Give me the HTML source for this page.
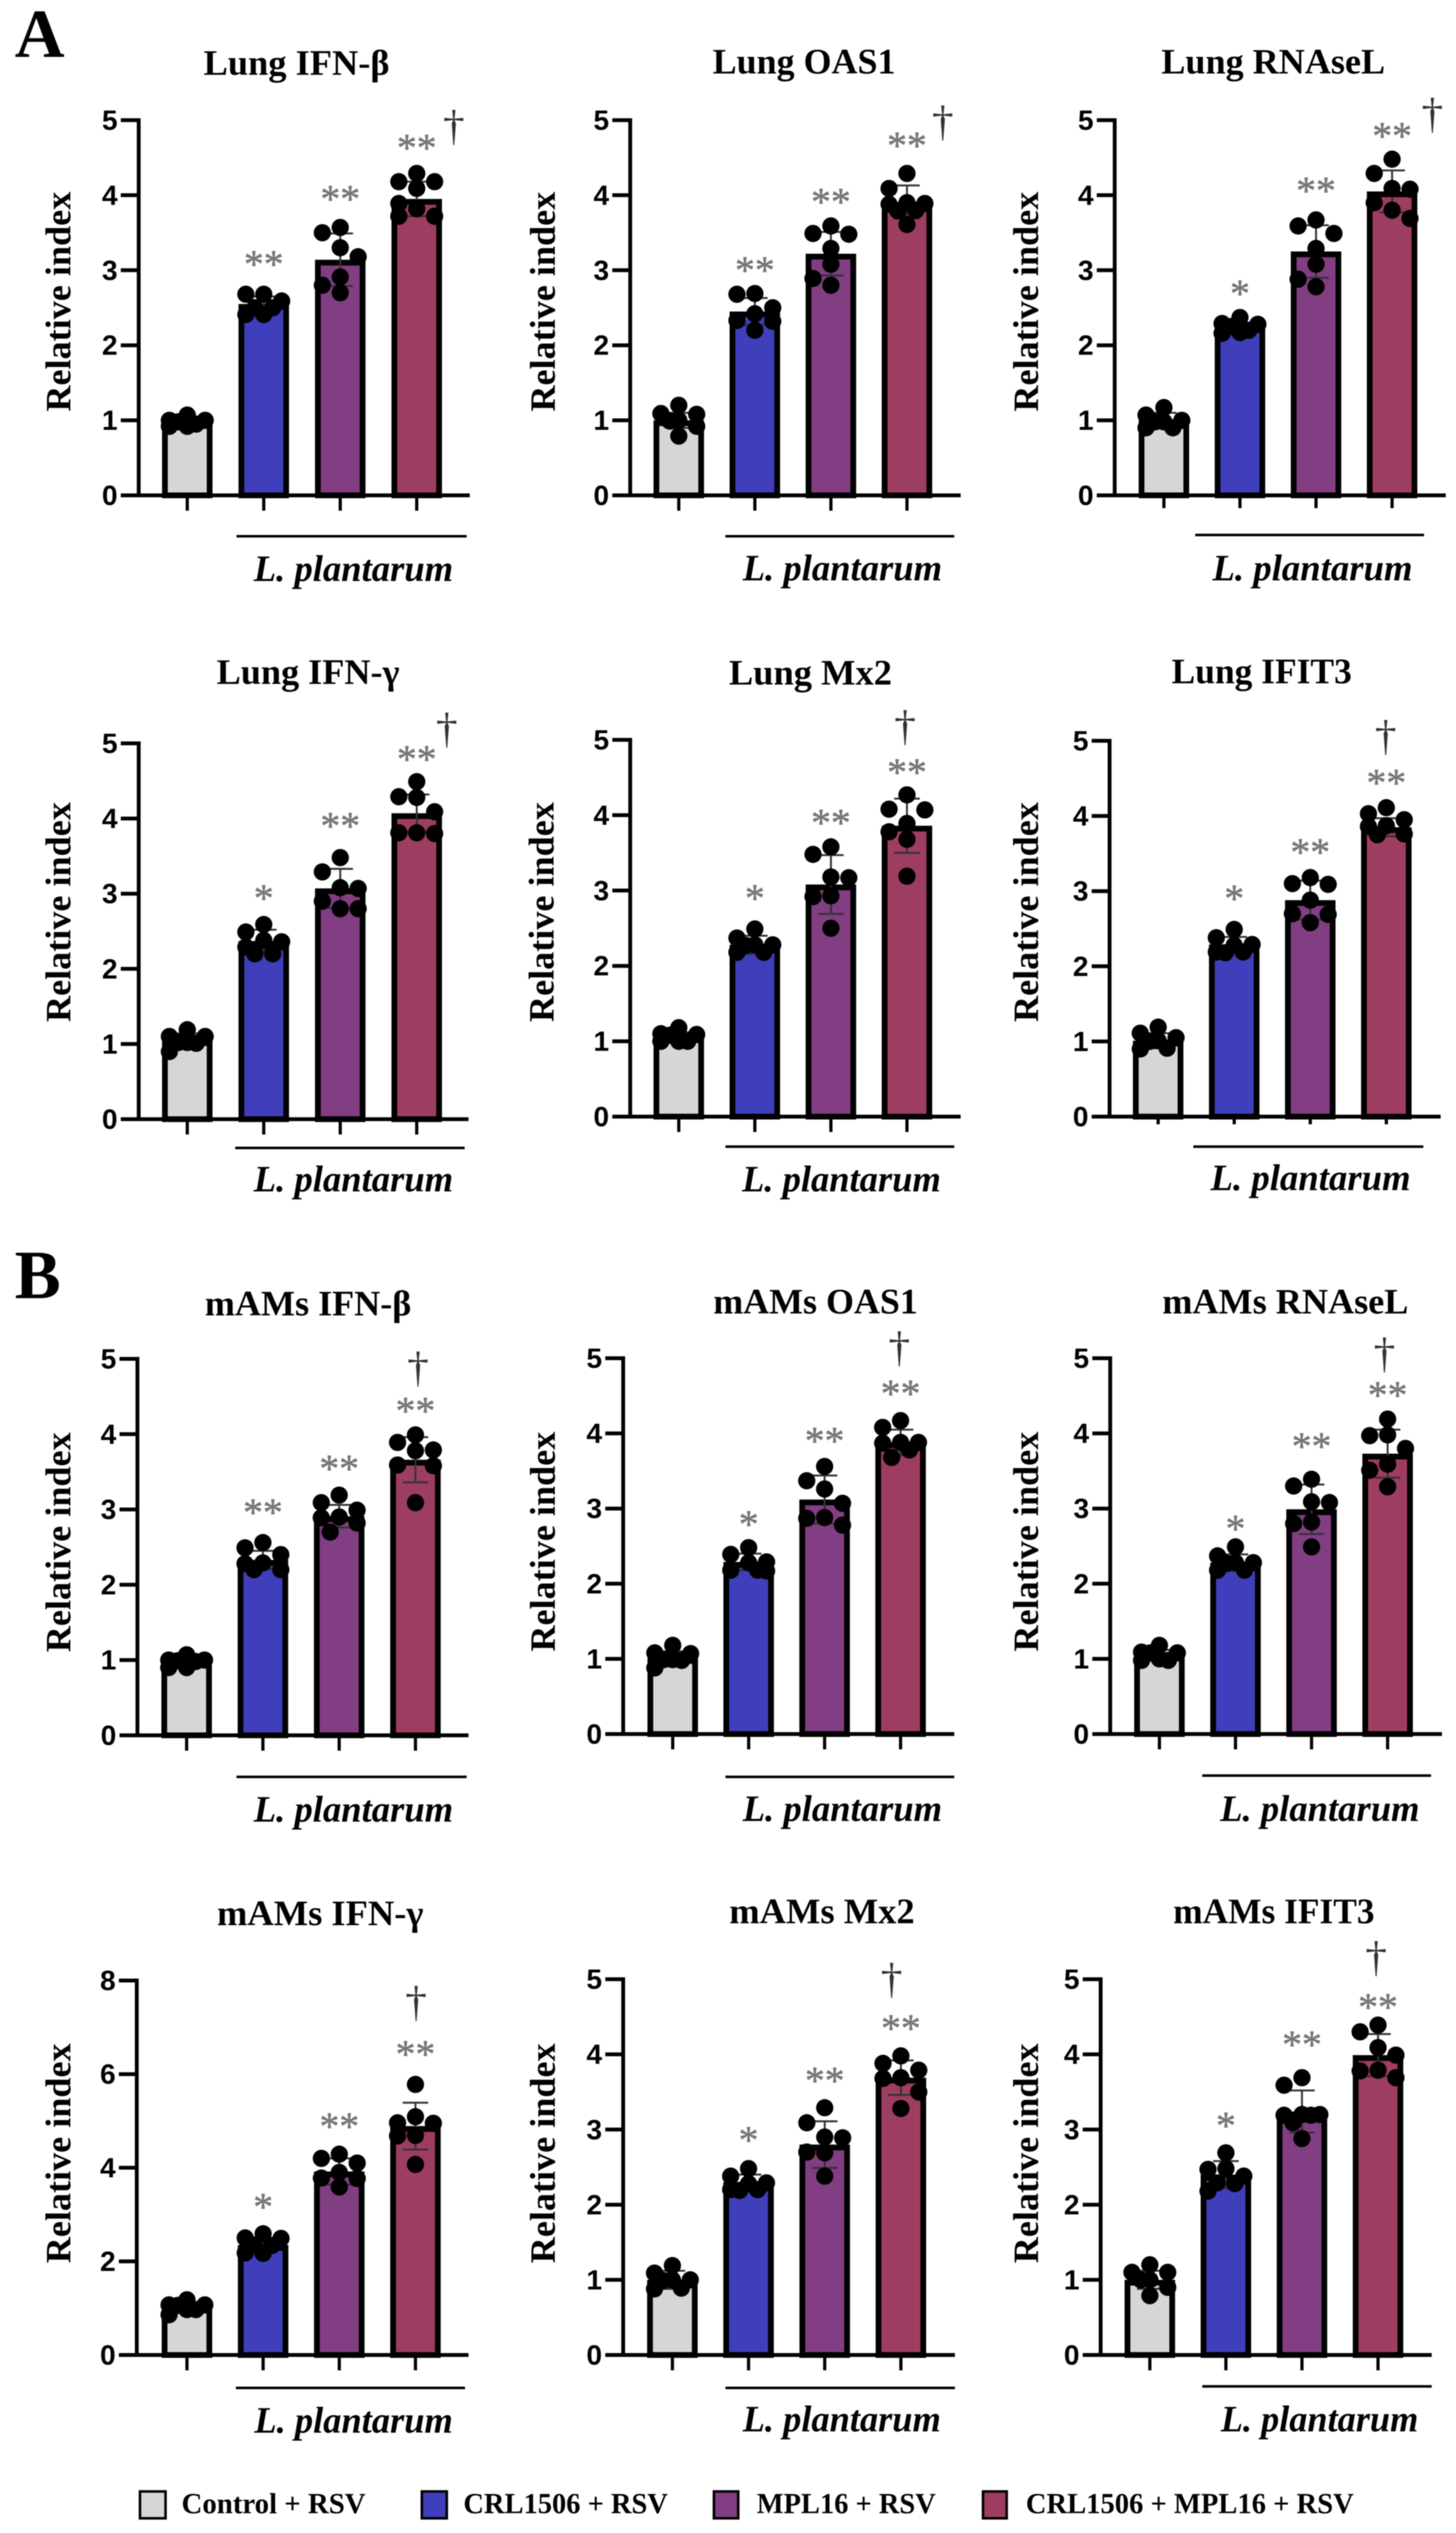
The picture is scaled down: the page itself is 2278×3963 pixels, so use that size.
<!DOCTYPE html>
<html lang="en">
<head>
<meta charset="utf-8">
<title>Relative index of antiviral factors, Lung and mAMs</title>
<style>
html,body{margin:0;padding:0;background:#fff;}
#chart{display:block;width:2278px;height:3963px;filter:blur(0.7px);}
text{font-family:"Liberation Serif",serif;}
</style>
</head>
<body>
<svg id="chart" xmlns="http://www.w3.org/2000/svg" width="2278" height="3963" viewBox="0 0 2278 3963"></svg>
<script>
// ---------- DATA ----------
const categories = ['Control + RSV', 'CRL1506 + RSV', 'MPL16 + RSV', 'CRL1506 + MPL16 + RSV'];
const panelTitles = ['Lung IFN-β','Lung OAS1','Lung RNAseL','Lung IFN-γ','Lung Mx2','Lung IFIT3','mAMs IFN-β','mAMs OAS1','mAMs RNAseL','mAMs IFN-γ','mAMs Mx2','mAMs IFIT3'];
const tickLabels = [[0,1,2,3,4,5],[0,1,2,3,4,5],[0,1,2,3,4,5],[0,1,2,3,4,5],[0,1,2,3,4,5],[0,1,2,3,4,5],[0,1,2,3,4,5],[0,1,2,3,4,5],[0,1,2,3,4,5],[0,2,4,6,8],[0,1,2,3,4,5],[0,1,2,3,4,5]];
const barMeans = [
 [0.98,2.55,3.14,3.95],[1.0,2.45,3.22,3.91],[1.0,2.24,3.25,4.05],
 [1.05,2.37,3.07,4.07],[1.06,2.28,3.08,3.86],[1.01,2.29,2.88,3.85],
 [0.98,2.33,2.91,3.66],[1.01,2.29,3.12,3.88],[1.05,2.28,2.99,3.73],
 [1.01,2.35,3.92,4.89],[1.0,2.3,2.8,3.69],[1.0,2.4,3.24,3.99]
];
const barSDs = [
 [0.05,0.1,0.35,0.23],[0.1,0.18,0.29,0.22],[0.1,0.06,0.35,0.28],
 [0.09,0.15,0.26,0.25],[0.06,0.12,0.39,0.36],[0.1,0.1,0.26,0.12],
 [0.05,0.12,0.15,0.3],[0.09,0.11,0.32,0.17],[0.07,0.11,0.33,0.32],
 [0.1,0.15,0.28,0.5],[0.12,0.1,0.31,0.23],[0.12,0.18,0.28,0.28]
];
const dotValues = [
 [[1.07,1.0,1.0,0.98,0.95,0.92,0.92],[2.68,2.68,2.59,2.5,2.5,2.41,2.41],[3.57,3.5,3.3,3.18,2.91,2.8,2.7],[4.29,4.18,4.18,4.09,3.89,3.82,3.72,3.72]],
 [[1.2,1.09,1.08,1.0,0.99,0.92,0.79],[2.69,2.68,2.5,2.42,2.33,2.32,2.2],[3.59,3.49,3.48,3.29,3.08,2.89,2.8],[4.29,4.09,3.9,3.89,3.88,3.8,3.79,3.61]],
 [[1.17,1.07,1.0,0.98,0.98,0.9,0.9],[2.37,2.29,2.28,2.25,2.2,2.17,2.16],[3.67,3.59,3.49,3.29,3.08,2.88,2.78],[4.48,4.29,4.09,4.08,3.9,3.8,3.69]],
 [[1.19,1.1,1.1,1.02,1.02,1.01,0.9],[2.59,2.49,2.38,2.36,2.29,2.2,2.2],[3.48,3.29,3.08,3.07,2.9,2.8,2.8],[4.49,4.29,4.28,4.09,3.81,3.81,3.8]],
 [[1.18,1.1,1.09,1.08,1.0,1.0,1.0],[2.49,2.37,2.28,2.28,2.27,2.18,2.18],[3.58,3.48,3.18,3.17,2.93,2.92,2.5],[4.27,4.08,4.07,3.89,3.78,3.68,3.19]],
 [[1.19,1.11,1.05,1.01,1.0,0.91,0.9],[2.49,2.38,2.29,2.28,2.19,2.19,2.18],[3.18,3.1,3.09,2.88,2.7,2.69,2.58],[4.11,4.03,3.95,3.87,3.86,3.76,3.75]],
 [[1.07,1.0,1.0,0.99,0.98,0.9,0.9],[2.56,2.49,2.4,2.29,2.28,2.2,2.2],[3.19,3.09,2.99,2.9,2.89,2.82,2.7],[3.99,3.89,3.79,3.78,3.59,3.58,3.09]],
 [[1.18,1.08,1.07,0.99,0.99,0.98,0.88],[2.48,2.39,2.29,2.28,2.18,2.18,2.17],[3.56,3.37,3.26,3.07,2.88,2.87,2.78],[4.17,4.08,3.88,3.88,3.87,3.78,3.68]],
 [[1.18,1.09,1.08,1.08,1.0,0.98,0.98],[2.49,2.37,2.28,2.28,2.27,2.18,2.18],[3.39,3.3,3.09,3.08,2.82,2.8,2.49],[4.19,3.98,3.97,3.8,3.59,3.51,3.29]],
 [[1.18,1.07,1.07,1.06,0.97,0.97,0.86],[2.59,2.5,2.49,2.35,2.34,2.18,2.17],[4.29,4.2,4.1,3.9,3.78,3.77,3.59],[5.78,5.09,4.96,4.95,4.69,4.68,4.07]],
 [[1.19,1.09,1.0,1.0,0.99,0.89,0.88],[2.48,2.38,2.29,2.28,2.2,2.2,2.19],[3.29,3.09,2.9,2.89,2.7,2.69,2.38],[3.98,3.88,3.79,3.69,3.68,3.5,3.28]],
 [[1.2,1.1,1.1,1.0,1.0,0.9,0.79],[2.69,2.48,2.47,2.38,2.29,2.28,2.18],[3.69,3.59,3.2,3.2,3.19,3.19,3.09,2.88],[4.39,4.3,4.09,3.99,3.79,3.78,3.69]]
];
const starMarks = [
 ['**','**','**'],['**','**','**'],['*','**','**'],
 ['*','**','**'],['*','**','**'],['*','**','**'],
 ['**','**','**'],['*','**','**'],['*','**','**'],
 ['*','**','**'],['*','**','**'],['*','**','**']
];
const starLevels = [
 [3.15,4.02,4.7],[3.07,3.98,4.73],[2.76,4.13,4.86],
 [3.01,3.97,4.86],[2.97,3.97,4.64],[2.97,3.59,4.51],
 [3.03,3.61,4.38],[2.86,3.97,4.6],[2.8,3.9,4.58],
 [3.28,5.0,6.54],[2.93,3.72,4.42],[3.12,4.2,4.7]
];
const daggerLevels = [4.89,4.95,5.05,5.16,5.15,5.03,4.85,5.11,5.03,7.49,4.97,5.26];

// ---------- LAYOUT (pixel geometry, separate from the data) ----------
const layouts = [
 {ax:217,top:188,bot:775,c0:293,c3:652,xEnd:735,ovL:370,ovR:730,ovY:839,txL:397,txR:709,txY:909,ttX:464,ttW:291,ttY:117,ylX:110,ylY:472,tick:24,dag:710},
 {ax:986,top:188,bot:775,c0:1062,c3:1419,xEnd:1503,ovL:1135,ovR:1493,ovY:839,txL:1162,txR:1474,txY:908,ttX:1258,ttW:286,ttY:115,ylX:868,ylY:472,tick:24,dag:1475},
 {ax:1744,top:188,bot:775,c0:1821,c3:2178,xEnd:2262,ovL:1870,ovR:2228,ovY:837,txL:1897,txR:2210,txY:908,ttX:1992,ttW:350,ttY:115,ylX:1624,ylY:472,tick:20,dag:2241},
 {ax:217,top:1163,bot:1751,c0:293,c3:652,xEnd:733,ovL:368,ovR:727,ovY:1796,txL:397,txR:709,txY:1864,ttX:482,ttW:286,ttY:1070,ylX:110,ylY:1427,tick:24,dag:699},
 {ax:986,top:1157.5,bot:1747,c0:1062,c3:1419,xEnd:1503,ovL:1135,ovR:1493,ovY:1794,txL:1161,txR:1472,txY:1864,ttX:1268,ttW:255,ttY:1071,ylX:866,ylY:1427,tick:24,dag:1416},
 {ax:1736,top:1159,bot:1747,c0:1812,c3:2169,xEnd:2254,ovL:1867,ovR:2227,ovY:1794,txL:1894,txR:2207,txY:1862,ttX:1974,ttW:282,ttY:1069,ylX:1624,ylY:1427,tick:12,dag:2168},
 {ax:215,top:2126,bot:2715,c0:292,c3:650,xEnd:733,ovL:370,ovR:730,ovY:2780,txL:397,txR:709,txY:2850,ttX:482,ttW:323,ttY:2058,ylX:110,ylY:2413,tick:24,dag:654},
 {ax:975,top:2125,bot:2713,c0:1052.5,c3:1409,xEnd:1493,ovL:1135,ovR:1493,ovY:2780,txL:1162,txR:1474,txY:2849,ttX:1276,ttW:320,ttY:2055,ylX:868,ylY:2412,tick:24,dag:1407},
 {ax:1737,top:2125,bot:2713,c0:1814,c3:2171,xEnd:2256,ovL:1881,ovR:2239,ovY:2778,txL:1909,txR:2221,txY:2849,ttX:2011,ttW:385,ttY:2055,ylX:1624,ylY:2412,tick:24,dag:2166},
 {ax:214,top:3098.6,bot:3684.5,c0:292.5,c3:650,xEnd:733,ovL:369,ovR:727.5,ovY:3736,txL:398,txR:708.5,txY:3806,ttX:501,ttW:323,ttY:3012,ylX:110,ylY:3369,tick:24,dag:651},
 {ax:975,top:3096.6,bot:3684.5,c0:1052,c3:1409.5,xEnd:1494,ovL:1135,ovR:1494,ovY:3736,txL:1162,txR:1472,txY:3804,ttX:1286,ttW:290,ttY:3009,ylX:868,ylY:3369,tick:24,dag:1395},
 {ax:1722,top:3096.6,bot:3684.5,c0:1799,c3:2156,xEnd:2240,ovL:1881,ovR:2240,ovY:3733.6,txL:1910,txR:2219,txY:3804,ttX:1993,ttW:315,ttY:3009,ylX:1624,ylY:3369,tick:24,dag:2153}
];
const barFills = ['#d6d6d6','#3f3fbc','#823e82','#9e3d62'];
const legendLayout = [
 {sx:217,sw:44,tx:284,tw:288},
 {sx:658,sw:43,tx:725,tw:320},
 {sx:1115,sw:42,tx:1184,tw:280},
 {sx:1536,sw:41,tx:1605,tw:513}
];

// ---------- DRAW ----------
const svg = document.getElementById('chart');
const NS = 'http://www.w3.org/2000/svg';
function make(tag, attrs, parent, content) {
  const el = document.createElementNS(NS, tag);
  for (const k in attrs) el.setAttribute(k, attrs[k]);
  if (content !== undefined) el.textContent = content;
  (parent || svg).appendChild(el);
  return el;
}
function slug(s) { return s.toLowerCase().replace(/[^a-z0-9]+/g, '-').replace(/^-|-$/g, ''); }

// Spread a bar's dots sideways to avoid overlap, alternating sides, from the top value down.
function swarm(values, yOf) {
  const sorted = values.slice().sort((a, b) => b - a);
  const placed = [];
  let side = -1;
  sorted.forEach(v => {
    const cy = yOf(v);
    const order = [0, side * 28, -side * 28, side * 14, -side * 14];
    let best = 0, bestD = -1;
    for (const o of order) {
      let d = Infinity;
      placed.forEach(q => { d = Math.min(d, Math.hypot(q.dx - o, q.cy - cy)); });
      if (d >= 24) { best = o; break; }
      if (d > bestD) { bestD = d; best = o; }
    }
    if (best !== 0) side = best > 0 ? -1 : 1;
    placed.push({ v: v, dx: best, cy: cy });
  });
  return placed;
}

panelTitles.forEach((title, p) => {
  const L = layouts[p];
  const ticks = tickLabels[p];
  const yMax = Math.max.apply(null, ticks);
  const yScale = v => L.bot - v * (L.bot - L.top) / yMax;
  const xScale = i => L.c0 + i * (L.c3 - L.c0) / (categories.length - 1);

  const g = make('g', {});
  
  

  const ttl = make('text', {x:L.ttX, y:L.ttY, 'text-anchor':'middle', 'font-size':56, 'font-weight':'bold', fill:'#000', textLength:L.ttW, lengthAdjust:'spacingAndGlyphs'}, g, title);
  
  

  const yl = make('text', {x:0, y:0, transform:'translate(' + L.ylX + ' ' + L.ylY + ') rotate(-90)', 'text-anchor':'middle', 'font-size':56, 'font-weight':'bold', fill:'#000', textLength:344, lengthAdjust:'spacingAndGlyphs'}, g, 'Relative index');
  
  

  // bars
  categories.forEach((cat, i) => {
    const cx = xScale(i);
    const top = yScale(barMeans[p][i]);
    const bar = make('rect', {x:cx - 35, y:top + 4.5, width:70, height:L.bot - top - 4.5, fill:barFills[i], stroke:'#000', 'stroke-width':9}, g);
    
    
  });

  // axes
  const yAxis = make('line', {x1:L.ax, x2:L.ax, y1:L.top - 3, y2:L.bot + 3, stroke:'#000', 'stroke-width':6}, g);
  
  
  const xAxis = make('line', {x1:L.ax - 28, x2:L.xEnd, y1:L.bot, y2:L.bot, stroke:'#000', 'stroke-width':6}, g);
  
  

  ticks.forEach(t => {
    const ty = yScale(t);
    if (t !== 0) {
      const tk = make('line', {x1:L.ax - 28, x2:L.ax, y1:ty, y2:ty, stroke:'#000', 'stroke-width':6}, g);
      
      
    }
    const lb = make('text', {x:L.ax - 33, y:ty + 15, 'text-anchor':'end', 'font-size':44, 'font-weight':'bold', fill:'#000', style:'font-family:"Liberation Sans",sans-serif'}, g, String(t));
    
    
  });

  categories.forEach((cat, i) => {
    const cx = xScale(i);
    const tk = make('line', {x1:cx, x2:cx, y1:L.bot, y2:L.bot + L.tick, stroke:'#000', 'stroke-width':5}, g);
    
    

    // error bars
    const m = barMeans[p][i], sd = barSDs[p][i];
    const eb = make('path', {d:'M' + (cx - 20) + ' ' + yScale(m + sd) + 'H' + (cx + 20) + 'M' + cx + ' ' + yScale(m + sd) + 'V' + yScale(m - sd) + 'M' + (cx - 20) + ' ' + yScale(m - sd) + 'H' + (cx + 20), fill:'none', stroke:'#333', 'stroke-width':3}, g);
    
    

    // dots
    swarm(dotValues[p][i], yScale).forEach(d => {
      const c = make('circle', {cx:cx + d.dx, cy:yScale(d.v), r:13.5, fill:'#000'}, g);
      
      
    });
  });

  // significance marks
  starMarks[p].forEach((mark, k) => {
    const cx = xScale(k + 1);
    const st = make('text', {x:cx, y:yScale(starLevels[p][k]) + 29, 'text-anchor':'middle', 'font-size':62, fill:'#777', stroke:'#777', 'stroke-width':0.8}, g, mark);
    
    
  });
  const dg = make('text', {x:L.dag, y:yScale(daggerLevels[p]) + 18, 'text-anchor':'middle', 'font-size':68, fill:'#333'}, g, '†');
  
  

  // treatment bracket
  const ov = make('line', {x1:L.ovL, x2:L.ovR, y1:L.ovY, y2:L.ovY, stroke:'#000', 'stroke-width':4}, g);
  
  
  const tx = make('text', {x:L.txL, y:L.txY, 'font-size':58, 'font-weight':'bold', 'font-style':'italic', fill:'#000', textLength:L.txR - L.txL, lengthAdjust:'spacingAndGlyphs'}, g, 'L. plantarum');
  
  
});

// panel letters
const letterA = make('text', {x:23, y:89, 'font-size':108, 'font-weight':'bold', fill:'#000'}, svg, 'A');


const letterB = make('text', {x:23, y:2031, 'font-size':108, 'font-weight':'bold', fill:'#000'}, svg, 'B');



// legend
const legend = make('g', {});


categories.forEach((cat, i) => {
  const L = legendLayout[i];
  const sw = make('rect', {x:L.sx + 2, y:3898, width:L.sw - 4, height:42, fill:barFills[i], stroke:'#000', 'stroke-width':4}, legend);
  
  
  const t = make('text', {x:L.tx, y:3932, 'font-size':45, 'font-weight':'bold', fill:'#000', textLength:L.tw, lengthAdjust:'spacingAndGlyphs'}, legend, cat);
  
  
});
</script>
</body>
</html>
